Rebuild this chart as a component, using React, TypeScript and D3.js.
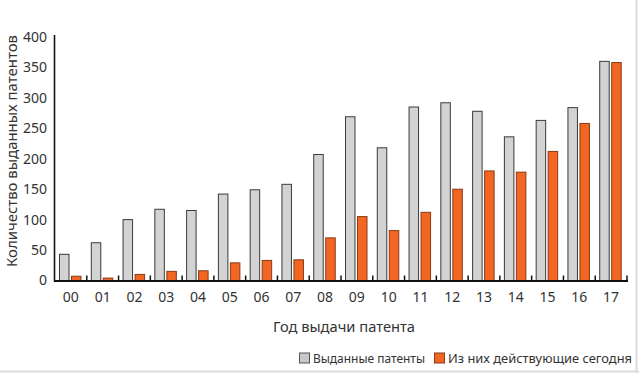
import React, { useEffect, useRef } from "react";
import * as d3 from "d3";

const years = ["00", "01", "02", "03", "04", "05", "06", "07", "08", "09", "10", "11", "12", "13", "14", "15", "16", "17"];
const issued = [43, 62, 100, 117, 115, 142, 149, 158, 207, 269, 218, 285, 292, 278, 236, 263, 284, 360];
const active = [7, 4, 10, 15, 16, 29, 33, 34, 70, 105, 82, 112, 150, 180, 178, 212, 258, 358];
const yTicks = [0, 50, 100, 150, 200, 250, 300, 350, 400];

const W = 639;
const H = 373;
const FONT = "'Noto Sans', 'Open Sans', sans-serif";

const App = () => {
  const svgRef = useRef(null);

  useEffect(() => {
    const svg = d3.select(svgRef.current);
    svg.selectAll("*").remove();

    const x = d3.scaleBand().domain(years).range([55, 627]);
    const y = d3.scaleLinear().domain([0, 400]).range([280.5, 37]);
    const bw = x.bandwidth();
    const barW = 9.5;

    // frame edges
    svg.append("line").attr("x1", 636.5).attr("x2", 636.5).attr("y1", 0).attr("y2", H)
      .attr("stroke", "#dcdcdc").attr("stroke-width", 2);
    svg.append("line").attr("x1", 0).attr("x2", W).attr("y1", 371.5).attr("y2", 371.5)
      .attr("stroke", "#dcdcdc").attr("stroke-width", 2);

    svg.append("g").selectAll("rect").data(years).join("rect")
      .attr("x", (d) => x(d) + 4.5)
      .attr("y", (d, i) => y(issued[i]))
      .attr("width", barW)
      .attr("height", (d, i) => y(0) - y(issued[i]))
      .attr("fill", "#d3d3d3")
      .attr("stroke", "#3a3a3a")
      .attr("stroke-width", 1);

    svg.append("g").selectAll("rect").data(years).join("rect")
      .attr("x", (d) => x(d) + 16.5)
      .attr("y", (d, i) => y(active[i]))
      .attr("width", barW)
      .attr("height", (d, i) => y(0) - y(active[i]))
      .attr("fill", "#f26522")
      .attr("stroke", "#8a3b16")
      .attr("stroke-width", 1);

    // y axis
    svg.append("line").attr("x1", 54.5).attr("x2", 54.5).attr("y1", 35).attr("y2", 281.5)
      .attr("stroke", "#111").attr("stroke-width", 1.6);
    svg.append("g").selectAll("text").data(yTicks).join("text")
      .attr("x", 47).attr("y", (d) => y(d)).attr("dy", "0.35em")
      .attr("text-anchor", "end").attr("font-family", FONT).attr("font-size", 14)
      .attr("fill", "#333").text((d) => d);

    // x axis
    svg.append("line").attr("x1", 54).attr("x2", 628).attr("y1", 281).attr("y2", 281)
      .attr("stroke", "#111").attr("stroke-width", 1.8);
    svg.append("g").selectAll("line").data(years).join("line")
      .attr("x1", (d) => x(d) + bw).attr("x2", (d) => x(d) + bw)
      .attr("y1", 281).attr("y2", 275.5)
      .attr("stroke", "#111").attr("stroke-width", 1.5);
    svg.append("g").selectAll("text").data(years).join("text")
      .attr("x", (d) => x(d) + bw / 2).attr("y", 297).attr("dy", "0.35em")
      .attr("text-anchor", "middle").attr("font-family", FONT).attr("font-size", 14)
      .attr("fill", "#333").text((d) => d);

    // axis titles
    svg.append("text").attr("x", 344).attr("y", 327).attr("dy", "0.35em")
      .attr("text-anchor", "middle").attr("font-family", FONT).attr("font-size", 15)
      .attr("fill", "#333").attr("textLength", 142).attr("lengthAdjust", "spacingAndGlyphs")
      .text("Год выдачи патента");
    svg.append("text").attr("transform", "translate(12,151) rotate(-90)").attr("dy", "0.35em")
      .attr("text-anchor", "middle").attr("font-family", FONT).attr("font-size", 15)
      .attr("fill", "#333").attr("textLength", 232).attr("lengthAdjust", "spacingAndGlyphs")
      .text("Количество выданных патентов");

    // legend
    const legend = [
      { label: "Выданные патенты", fill: "#c8c8c8", stroke: "#555", x: 299, len: 112 },
      { label: "Из них действующие сегодня", fill: "#f26522", stroke: "#8a3b16", x: 434, len: 184 },
    ];
    const lg = svg.append("g").selectAll("g").data(legend).join("g")
      .attr("transform", (d) => `translate(${d.x},358)`);
    lg.append("rect").attr("x", 0.5).attr("y", -5).attr("width", 10).attr("height", 10)
      .attr("fill", (d) => d.fill).attr("stroke", (d) => d.stroke);
    lg.append("text").attr("x", 14).attr("y", 0).attr("dy", "0.35em")
      .attr("font-family", FONT).attr("font-size", 13).attr("fill", "#333")
      .attr("textLength", (d) => d.len).attr("lengthAdjust", "spacingAndGlyphs")
      .text((d) => d.label);
  }, []);

  return (
    <svg ref={svgRef} width={W} height={H}
      style={{ position: "absolute", left: 0, top: 0, background: "#fff" }} />
  );
};

export default App;
